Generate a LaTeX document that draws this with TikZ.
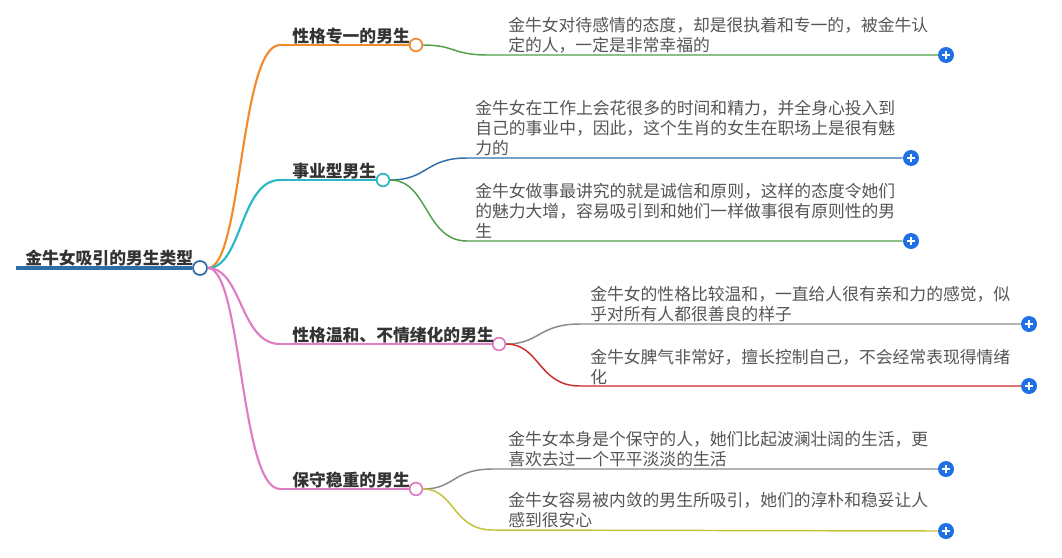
\documentclass[tikz,border=0pt]{standalone}
\usepackage{fontspec}
\setmainfont{Noto Sans CJK SC}
\definecolor{txtgray}{HTML}{555555}
\definecolor{dark}{HTML}{333333}
\definecolor{rootblue}{HTML}{2E6DA8}
\definecolor{corange}{HTML}{F28A2E}
\definecolor{cteal}{HTML}{2BB7C6}
\definecolor{cpink}{HTML}{DF7DC4}
\definecolor{cgreen}{HTML}{4DA04A}
\definecolor{cblue}{HTML}{2F6EAD}
\definecolor{cgray}{HTML}{8A8A8A}
\definecolor{cred}{HTML}{CC2B2B}
\definecolor{colive}{HTML}{C2C23A}
\definecolor{plusblue}{HTML}{1F6FE5}
\begin{document}
\begin{tikzpicture}[x=0.75pt,y=-0.75pt,
  body/.style={anchor=base west,align=left,font=\fontsize{12.6}{15}\selectfont,text=txtgray,inner sep=0pt},
  topic/.style={anchor=base west,font=\fontsize{12.6}{15}\selectfont\bfseries,text=dark,inner sep=0pt},
  knob/.style={circle,draw=#1,fill=white,line width=1.3pt,minimum size=9.5pt,inner sep=0pt},
  plus/.style={circle,fill=plusblue,minimum size=12pt,inner sep=0pt,
    path picture={\draw[white,line width=1.3pt]
      ([xshift=-3.3pt]path picture bounding box.center) -- ([xshift=3.3pt]path picture bounding box.center)
      ([yshift=-3.3pt]path picture bounding box.center) -- ([yshift=3.3pt]path picture bounding box.center);}},
  mainline/.style={line width=1.6pt},
  subline/.style={line width=1.1pt}
]
\useasboundingbox (0,0) rectangle (1062,557);

% root
\node[topic] (root) at (25,264) {金牛女吸引的男生类型};
\coordinate (rs) at (16,268);
\node[knob=rootblue,minimum size=10.5pt] (rk) at (200,268) {};
\draw[rootblue,line width=3pt] (rs) -- (rk.west);

% branch coordinates
\coordinate (b1s) at (280,45);
\coordinate (b2s) at (280,180);
\coordinate (b3s) at (280,344);
\coordinate (b4s) at (280,489);

% branch knobs
\node[knob=corange] (k1) at (416,45) {};
\node[knob=cteal] (k2) at (383,180) {};
\node[knob=cpink] (k3) at (499,344) {};
\node[knob=cpink] (k4) at (416,489) {};

% root curves
\draw[corange,mainline] (rk.east) .. controls (242,268) and (240,45) .. (b1s);
\draw[cteal,mainline] (rk.east) .. controls (242,268) and (240,180) .. (b2s);
\draw[cpink,mainline] (rk.east) .. controls (242,268) and (240,344) .. (b3s);
\draw[cpink,mainline] (rk.east) .. controls (242,268) and (240,489) .. (b4s);

% underlines
\draw[corange,mainline] (b1s) -- (k1.west);
\draw[cteal,mainline] (b2s) -- (k2.west);
\draw[cpink,mainline] (b3s) -- (k3.west);
\draw[cpink,mainline] (b4s) -- (k4.west);

% topic labels
\node[topic] (t1) at (292,42) {性格专一的男生};
\node[topic] (t2) at (292,177) {事业型男生};
\node[topic] (t3) at (292,341) {性格温和、不情绪化的男生};
\node[topic] (t4) at (292,486) {保守稳重的男生};

% plus buttons
\node[plus] (p11) at (946,55) {};
\node[plus] (p21) at (911,158) {};
\node[plus] (p22) at (911,241) {};
\node[plus] (p31) at (1029,324) {};
\node[plus] (p32) at (1029,386) {};
\node[plus] (p41) at (946,469) {};
\node[plus] (p42) at (946,531) {};

% child line bends
\coordinate (c11) at (488,55);
\coordinate (c21) at (467,158);
\coordinate (c22) at (467,241);
\coordinate (c31) at (580,324);
\coordinate (c32) at (580,386);
\coordinate (c41) at (493,469);
\coordinate (c42) at (493,530);

% child connectors
\draw[cgreen,subline] (k1.east) .. controls (455,45) and (452,55) .. (c11) -- (p11.west);
\draw[cblue,subline] (k2.east) .. controls (428,180) and (425,158) .. (c21) -- (p21.west);
\draw[cgreen,subline] (k2.east) .. controls (428,180) and (425,241) .. (c22) -- (p22.west);
\draw[cgray,subline] (k3.east) .. controls (540,344) and (538,324) .. (c31) -- (p31.west);
\draw[cred,subline] (k3.east) .. controls (540,344) and (538,386) .. (c32) -- (p32.west);
\draw[cgray,subline] (k4.east) .. controls (455,489) and (452,469) .. (c41) -- (p41.west);
\draw[colive,subline] (k4.east) .. controls (455,489) and (452,530) .. (c42) -- (p42.west);

% child texts (anchored at the baseline of the last line)
\node[body] (d11) at (508,51) {金牛女对待感情的态度，却是很执着和专一的，被金牛认\\定的人，一定是非常幸福的};
\node[body] (d21) at (475,154) {金牛女在工作上会花很多的时间和精力，并全身心投入到\\自己的事业中，因此，这个生肖的女生在职场上是很有魅\\力的};
\node[body] (d22) at (475,237) {金牛女做事最讲究的就是诚信和原则，这样的态度令她们\\的魅力大增，容易吸引到和她们一样做事很有原则性的男\\生};
\node[body] (d31) at (590,320) {金牛女的性格比较温和，一直给人很有亲和力的感觉，似\\乎对所有人都很善良的样子};
\node[body] (d32) at (590,383) {金牛女脾气非常好，擅长控制自己，不会经常表现得情绪\\化};
\node[body] (d41) at (508,465) {金牛女本身是个保守的人，她们比起波澜壮阔的生活，更\\喜欢去过一个平平淡淡的生活};
\node[body] (d42) at (508,526) {金牛女容易被内敛的男生所吸引，她们的淳朴和稳妥让人\\感到很安心};
\end{tikzpicture}
\end{document}
